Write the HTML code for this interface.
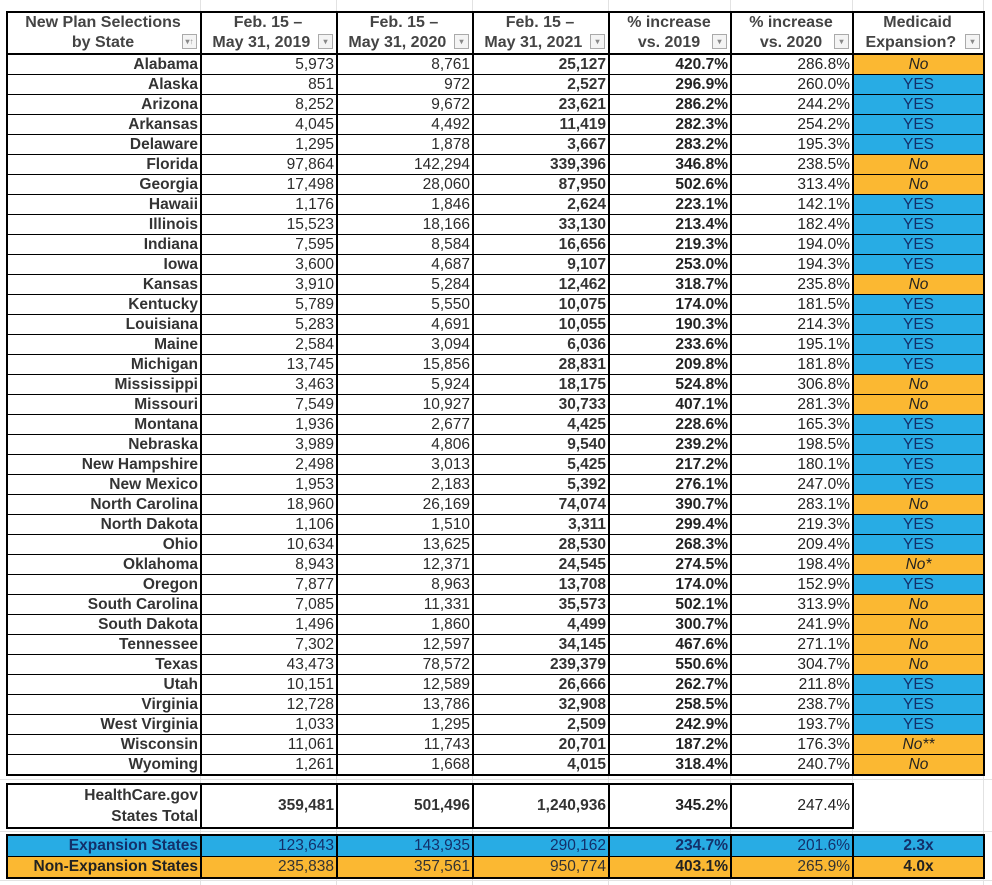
<!DOCTYPE html>
<html><head><meta charset="utf-8">
<style>
html,body{margin:0;padding:0;background:#fff;}
body{width:992px;height:885px;position:relative;overflow:hidden;font-family:"Liberation Sans",Arial,sans-serif;}
.g{position:absolute;background:#e2e2e2;}
table{position:absolute;left:6px;border-collapse:collapse;table-layout:fixed;font-size:15.5px;color:#222;}
td{border-left:2px solid #000;border-right:2px solid #000;border-top:1px solid #000;border-bottom:1px solid #000;height:19px;padding:0 2px 0 0;text-align:right;white-space:nowrap;overflow:hidden;line-height:18px;}
td.s{font-weight:bold;color:#333;}
td.b{font-weight:bold;}
td.n{color:#2a2a2a;}
td.m{text-align:center;padding:0;}
td.no{background:#fbb832;font-style:italic;color:#222;}
td.ye{background:#28ace4;color:#13306a;}
#hd td{border-top:2px solid #000;border-bottom:2px solid #000;height:40px;text-align:center;font-weight:bold;color:#444;line-height:20px;position:relative;font-size:16px;}
.dd{position:absolute;right:3px;bottom:4px;width:13px;height:13px;border:1px solid #aaa;background:#f4f4f4;font-size:8px;line-height:13px;color:#888;text-align:center;}
tr.last td{border-bottom:2px solid #000;}
</style></head><body>
<div class="g" style="left:200px;top:0;width:1px;height:885px"></div>
<div class="g" style="left:336px;top:0;width:1px;height:885px"></div>
<div class="g" style="left:472px;top:0;width:1px;height:885px"></div>
<div class="g" style="left:608px;top:0;width:1px;height:885px"></div>
<div class="g" style="left:730px;top:0;width:1px;height:885px"></div>
<div class="g" style="left:852px;top:0;width:1px;height:885px"></div>
<div class="g" style="left:983px;top:0;width:1px;height:885px"></div>
<div class="g" style="left:0;top:779px;width:992px;height:1px"></div>
<div class="g" style="left:0;top:831px;width:992px;height:1px"></div>
<div class="g" style="left:0;top:880px;width:992px;height:1px"></div>

<table style="top:11px">
<colgroup><col style="width:194px"><col style="width:136px"><col style="width:136px"><col style="width:136px"><col style="width:122px"><col style="width:122px"><col style="width:131px"></colgroup>
<tr id="hd"><td>New Plan Selections<br>by State<span class="dd">▾↑</span></td><td>Feb. 15 –<br>May 31, 2019&nbsp;&nbsp;&nbsp;<span class="dd">▾</span></td><td>Feb. 15 –<br>May 31, 2020&nbsp;&nbsp;&nbsp;<span class="dd">▾</span></td><td>Feb. 15 –<br>May 31, 2021&nbsp;&nbsp;&nbsp;<span class="dd">▾</span></td><td>% increase<br>vs. 2019<span class="dd">▾</span></td><td>% increase<br>vs. 2020<span class="dd">▾</span></td><td>Medicaid<br>Expansion?&nbsp;&nbsp;&nbsp;<span class="dd">▾</span></td></tr>
<tr><td class="s">Alabama</td><td class="n">5,973</td><td class="n">8,761</td><td class="s">25,127</td><td class="b">420.7%</td><td>286.8%</td><td class="m no">No</td></tr>
<tr><td class="s">Alaska</td><td class="n">851</td><td class="n">972</td><td class="s">2,527</td><td class="b">296.9%</td><td>260.0%</td><td class="m ye">YES</td></tr>
<tr><td class="s">Arizona</td><td class="n">8,252</td><td class="n">9,672</td><td class="s">23,621</td><td class="b">286.2%</td><td>244.2%</td><td class="m ye">YES</td></tr>
<tr><td class="s">Arkansas</td><td class="n">4,045</td><td class="n">4,492</td><td class="s">11,419</td><td class="b">282.3%</td><td>254.2%</td><td class="m ye">YES</td></tr>
<tr><td class="s">Delaware</td><td class="n">1,295</td><td class="n">1,878</td><td class="s">3,667</td><td class="b">283.2%</td><td>195.3%</td><td class="m ye">YES</td></tr>
<tr><td class="s">Florida</td><td class="n">97,864</td><td class="n">142,294</td><td class="s">339,396</td><td class="b">346.8%</td><td>238.5%</td><td class="m no">No</td></tr>
<tr><td class="s">Georgia</td><td class="n">17,498</td><td class="n">28,060</td><td class="s">87,950</td><td class="b">502.6%</td><td>313.4%</td><td class="m no">No</td></tr>
<tr><td class="s">Hawaii</td><td class="n">1,176</td><td class="n">1,846</td><td class="s">2,624</td><td class="b">223.1%</td><td>142.1%</td><td class="m ye">YES</td></tr>
<tr><td class="s">Illinois</td><td class="n">15,523</td><td class="n">18,166</td><td class="s">33,130</td><td class="b">213.4%</td><td>182.4%</td><td class="m ye">YES</td></tr>
<tr><td class="s">Indiana</td><td class="n">7,595</td><td class="n">8,584</td><td class="s">16,656</td><td class="b">219.3%</td><td>194.0%</td><td class="m ye">YES</td></tr>
<tr><td class="s">Iowa</td><td class="n">3,600</td><td class="n">4,687</td><td class="s">9,107</td><td class="b">253.0%</td><td>194.3%</td><td class="m ye">YES</td></tr>
<tr><td class="s">Kansas</td><td class="n">3,910</td><td class="n">5,284</td><td class="s">12,462</td><td class="b">318.7%</td><td>235.8%</td><td class="m no">No</td></tr>
<tr><td class="s">Kentucky</td><td class="n">5,789</td><td class="n">5,550</td><td class="s">10,075</td><td class="b">174.0%</td><td>181.5%</td><td class="m ye">YES</td></tr>
<tr><td class="s">Louisiana</td><td class="n">5,283</td><td class="n">4,691</td><td class="s">10,055</td><td class="b">190.3%</td><td>214.3%</td><td class="m ye">YES</td></tr>
<tr><td class="s">Maine</td><td class="n">2,584</td><td class="n">3,094</td><td class="s">6,036</td><td class="b">233.6%</td><td>195.1%</td><td class="m ye">YES</td></tr>
<tr><td class="s">Michigan</td><td class="n">13,745</td><td class="n">15,856</td><td class="s">28,831</td><td class="b">209.8%</td><td>181.8%</td><td class="m ye">YES</td></tr>
<tr><td class="s">Mississippi</td><td class="n">3,463</td><td class="n">5,924</td><td class="s">18,175</td><td class="b">524.8%</td><td>306.8%</td><td class="m no">No</td></tr>
<tr><td class="s">Missouri</td><td class="n">7,549</td><td class="n">10,927</td><td class="s">30,733</td><td class="b">407.1%</td><td>281.3%</td><td class="m no">No</td></tr>
<tr><td class="s">Montana</td><td class="n">1,936</td><td class="n">2,677</td><td class="s">4,425</td><td class="b">228.6%</td><td>165.3%</td><td class="m ye">YES</td></tr>
<tr><td class="s">Nebraska</td><td class="n">3,989</td><td class="n">4,806</td><td class="s">9,540</td><td class="b">239.2%</td><td>198.5%</td><td class="m ye">YES</td></tr>
<tr><td class="s">New Hampshire</td><td class="n">2,498</td><td class="n">3,013</td><td class="s">5,425</td><td class="b">217.2%</td><td>180.1%</td><td class="m ye">YES</td></tr>
<tr><td class="s">New Mexico</td><td class="n">1,953</td><td class="n">2,183</td><td class="s">5,392</td><td class="b">276.1%</td><td>247.0%</td><td class="m ye">YES</td></tr>
<tr><td class="s">North Carolina</td><td class="n">18,960</td><td class="n">26,169</td><td class="s">74,074</td><td class="b">390.7%</td><td>283.1%</td><td class="m no">No</td></tr>
<tr><td class="s">North Dakota</td><td class="n">1,106</td><td class="n">1,510</td><td class="s">3,311</td><td class="b">299.4%</td><td>219.3%</td><td class="m ye">YES</td></tr>
<tr><td class="s">Ohio</td><td class="n">10,634</td><td class="n">13,625</td><td class="s">28,530</td><td class="b">268.3%</td><td>209.4%</td><td class="m ye">YES</td></tr>
<tr><td class="s">Oklahoma</td><td class="n">8,943</td><td class="n">12,371</td><td class="s">24,545</td><td class="b">274.5%</td><td>198.4%</td><td class="m no">No*</td></tr>
<tr><td class="s">Oregon</td><td class="n">7,877</td><td class="n">8,963</td><td class="s">13,708</td><td class="b">174.0%</td><td>152.9%</td><td class="m ye">YES</td></tr>
<tr><td class="s">South Carolina</td><td class="n">7,085</td><td class="n">11,331</td><td class="s">35,573</td><td class="b">502.1%</td><td>313.9%</td><td class="m no">No</td></tr>
<tr><td class="s">South Dakota</td><td class="n">1,496</td><td class="n">1,860</td><td class="s">4,499</td><td class="b">300.7%</td><td>241.9%</td><td class="m no">No</td></tr>
<tr><td class="s">Tennessee</td><td class="n">7,302</td><td class="n">12,597</td><td class="s">34,145</td><td class="b">467.6%</td><td>271.1%</td><td class="m no">No</td></tr>
<tr><td class="s">Texas</td><td class="n">43,473</td><td class="n">78,572</td><td class="s">239,379</td><td class="b">550.6%</td><td>304.7%</td><td class="m no">No</td></tr>
<tr><td class="s">Utah</td><td class="n">10,151</td><td class="n">12,589</td><td class="s">26,666</td><td class="b">262.7%</td><td>211.8%</td><td class="m ye">YES</td></tr>
<tr><td class="s">Virginia</td><td class="n">12,728</td><td class="n">13,786</td><td class="s">32,908</td><td class="b">258.5%</td><td>238.7%</td><td class="m ye">YES</td></tr>
<tr><td class="s">West Virginia</td><td class="n">1,033</td><td class="n">1,295</td><td class="s">2,509</td><td class="b">242.9%</td><td>193.7%</td><td class="m ye">YES</td></tr>
<tr><td class="s">Wisconsin</td><td class="n">11,061</td><td class="n">11,743</td><td class="s">20,701</td><td class="b">187.2%</td><td>176.3%</td><td class="m no">No**</td></tr>
<tr class="last"><td class="s">Wyoming</td><td class="n">1,261</td><td class="n">1,668</td><td class="s">4,015</td><td class="b">318.4%</td><td>240.7%</td><td class="m no">No</td></tr>
</table>

<table style="top:783px">
<colgroup><col style="width:194px"><col style="width:136px"><col style="width:136px"><col style="width:136px"><col style="width:122px"><col style="width:122px"></colgroup>
<tr><td class="s" style="height:41px;line-height:21px;border-top:2px solid #000;border-bottom:2px solid #000">HealthCare.gov<br>States Total</td><td class="s" style="border-top:2px solid #000;border-bottom:2px solid #000">359,481</td><td class="s" style="border-top:2px solid #000;border-bottom:2px solid #000">501,496</td><td class="s" style="border-top:2px solid #000;border-bottom:2px solid #000">1,240,936</td><td class="b" style="border-top:2px solid #000;border-bottom:2px solid #000">345.2%</td><td style="border-top:2px solid #000;border-bottom:2px solid #000">247.4%</td></tr>
</table>

<table style="top:834px">
<colgroup><col style="width:194px"><col style="width:136px"><col style="width:136px"><col style="width:136px"><col style="width:122px"><col style="width:122px"><col style="width:131px"></colgroup>
<tr style="background:#28ace4;color:#13306a"><td class="b" style="color:#13306a;border-top:2px solid #000;height:20px">Expansion States</td><td style="color:#13306a;border-top:2px solid #000">123,643</td><td style="color:#13306a;border-top:2px solid #000">143,935</td><td style="color:#13306a;border-top:2px solid #000">290,162</td><td class="b" style="color:#13306a;border-top:2px solid #000">234.7%</td><td style="color:#13306a;border-top:2px solid #000">201.6%</td><td class="m b" style="color:#13306a;border-top:2px solid #000">2.3x</td></tr>
<tr style="background:#fbb832"><td class="b" style="color:#222;border-bottom:2px solid #000;height:20px">Non-Expansion States</td><td style="color:#333;border-bottom:2px solid #000">235,838</td><td style="color:#333;border-bottom:2px solid #000">357,561</td><td style="color:#333;border-bottom:2px solid #000">950,774</td><td class="b" style="border-bottom:2px solid #000">403.1%</td><td style="color:#333;border-bottom:2px solid #000">265.9%</td><td class="m b" style="border-bottom:2px solid #000">4.0x</td></tr>
</table>
</body></html>
